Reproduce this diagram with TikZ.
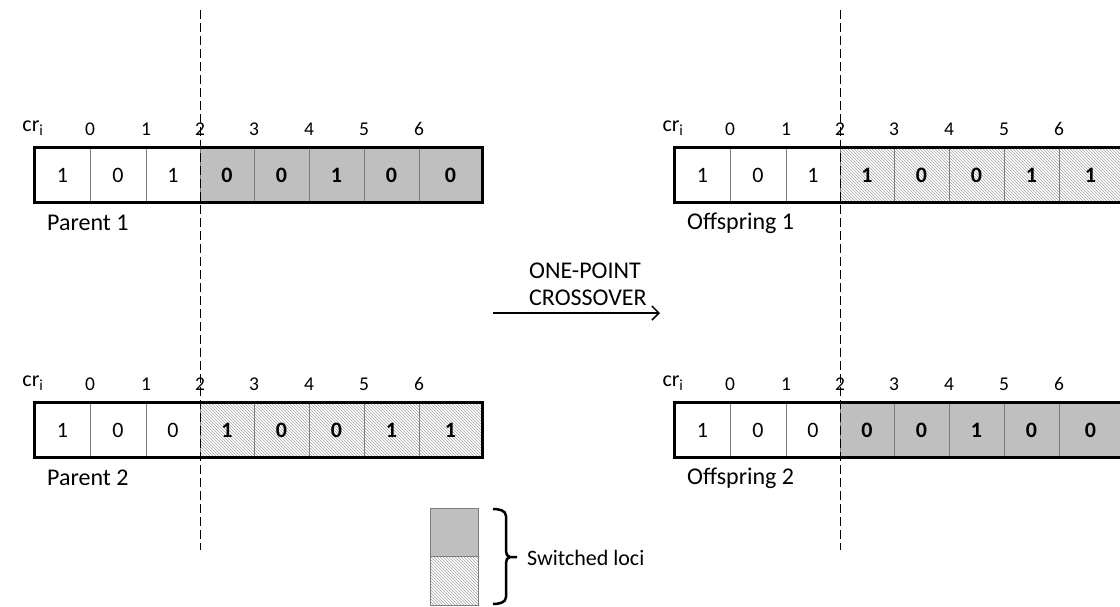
\documentclass[tikz,border=0pt]{standalone}
\usepackage{fontspec}
\setmainfont{Carlito}
\usetikzlibrary{patterns,arrows.meta}

\definecolor{lociGray}{RGB}{191,191,191}
\definecolor{cellLine}{RGB}{125,125,125}
\definecolor{hatchGray}{RGB}{165,165,165}

\tikzset{
  gene/.style={draw=cellLine, line width=0.8pt, minimum height=54pt, inner sep=0pt,
    font=\fontsize{22}{26}\selectfont},
  kept/.style={gene},
  solidloc/.style={gene, fill=lociGray, font=\fontsize{22}{26}\selectfont\bfseries},
  hatchloc/.style={gene, pattern=north west lines, pattern color=hatchGray,
    font=\fontsize{22}{26}\selectfont\bfseries},
  idx/.style={font=\fontsize{19.5}{22}\selectfont, inner sep=0pt},
  barlabel/.style={font=\fontsize{24}{28}\selectfont, anchor=west, inner sep=0pt},
  barframe/.style={draw=black, line width=3pt},
  cutline/.style={line width=1pt, dash pattern=on 9pt off 4pt},
}

% one chromosome: #1 name prefix, #2 x shift, #3 centre y, #4 style of loci 4-8, #5 bits
\newcommand\genestring[5]{%
  \foreach \v [count=\k] in {#5} {
    \pgfmathsetmacro\lft{{35,90,146,200,254,309,364,419}[\k-1]+#2}
    \pgfmathsetmacro\rgt{{90,146,200,254,309,364,419,482}[\k-1]+#2}
    \ifnum\k<4 \def\st{kept}\else\def\st{#4}\fi
    \node[\st, minimum width=\rgt pt-\lft pt] (#1\k) at ({(\lft+\rgt)/2},{#3}) {\v};
  }
  \draw[barframe] (#11.north west) rectangle (#18.south east);
}

% cut-point index row: #1 name prefix, #2 x shift, #3 y
\newcommand\indexrow[3]{%
  \node[idx, font=\fontsize{22}{24}\selectfont] (#1cr) at ({33+#2},{#3-1}) {cr\textsubscript{i}};
  \foreach \t/\n in {90/0,146/1,200/2,254/3,309/4,364/5,419/6}
    \node[idx] (#1n\n) at ({\t+#2},{#3}) {\n};
}

\begin{document}
\begin{tikzpicture}[x=1pt, y=-1pt]
  \useasboundingbox (0,0) rectangle (1120,606);
  \clip (0,0) rectangle (1120,606);

  % parents
  \indexrow{pai}{0}{129}
  \genestring{pa}{0}{175}{solidloc}{1,0,1,0,0,1,0,0}
  \node[barlabel] (pal) at (47,223) {Parent 1};

  \indexrow{pbi}{0}{384}
  \genestring{pb}{0}{430}{hatchloc}{1,0,0,1,0,0,1,1}
  \node[barlabel] (pbl) at (47,478) {Parent 2};

  % offspring
  \indexrow{oai}{640}{129}
  \genestring{oa}{640}{175}{hatchloc}{1,0,1,1,0,0,1,1}
  \node[barlabel] (oal) at (687,223) {Offspring 1};

  \indexrow{obi}{640}{384}
  \genestring{ob}{640}{430}{solidloc}{1,0,0,0,0,1,0,0}
  \node[barlabel] (obl) at (687,478) {Offspring 2};

  % crossover cut
  \coordinate (cutAt) at (200,10);
  \coordinate (cutAb) at (200,550);
  \coordinate (cutBt) at (840,10);
  \coordinate (cutBb) at (840,550);
  \draw[cutline] (cutAt) -- (cutAb);
  \draw[cutline] (cutBt) -- (cutBb);

  % operator arrow
  \node[font=\fontsize{24}{27}\selectfont, align=left, anchor=west, inner sep=0pt]
    (op) at (529,284) {ONE-POINT\\CROSSOVER};
  \coordinate (arrS) at (493,313);
  \coordinate (arrE) at (660,313);
  \draw[line width=1.5pt, -{Straight Barb[length=7pt,width=14pt,line width=1.5pt]}] (arrS) -- (arrE);

  % legend
  \node[draw=cellLine, line width=0.8pt, fill=lociGray, minimum width=48pt, minimum height=48pt,
    inner sep=0pt] (keyA) at (454,532) {};
  \node[draw=cellLine, line width=0.8pt, pattern=north west lines, pattern color=hatchGray,
    minimum width=48pt, minimum height=49pt, inner sep=0pt] (keyB) at (454,580.5) {};
  \coordinate (brT) at (493,509);
  \coordinate (brB) at (493,604);
  \coordinate (brM) at (517,557);
  \draw[line width=2.5pt]
    (brT) to[out=0,in=90] (506,516) -- (506,551) to[out=-90,in=180] (510,557) -- (brM)
    (510,557) to[out=180,in=90] (506,563) -- (506,597) to[out=-90,in=0] (brB);
  \node[font=\fontsize{22}{26}\selectfont, anchor=west, inner sep=0pt] (keyl) at (527,558) {Switched loci};
\end{tikzpicture}
\end{document}
